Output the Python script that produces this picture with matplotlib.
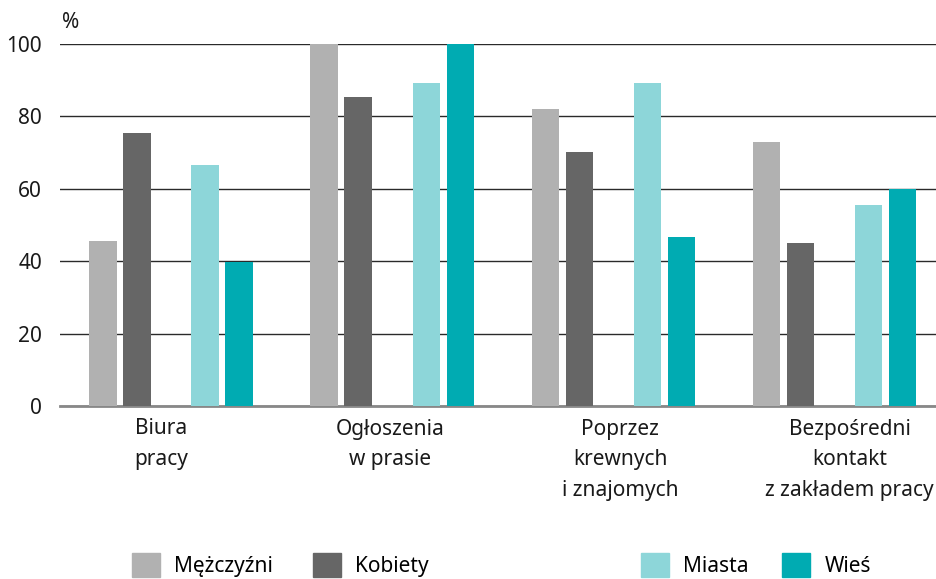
import matplotlib
matplotlib.use("Agg")
import matplotlib.pyplot as plt
from matplotlib.patches import Patch
import numpy as np

plt.rcParams["font.family"] = ["Noto Sans", "DejaVu Sans"]

# data
categories = ["Biura\npracy", "Ogłoszenia\nw prasie", "Poprzez\nkrewnych\ni znajomych",
              "Bezpośredni\nkontakt\nz zakładem pracy"]
mezczyzni = [45.5, 100, 82, 72.8]
kobiety = [75.3, 85.3, 70.3, 45]
miasta = [66.7, 89.2, 89.2, 55.6]
wies = [39.7, 100, 46.7, 60]

series = ["Mężczyźni", "Kobiety", "Miasta", "Wieś"]
colors = ["#b1b1b1", "#666666", "#8dd6d9", "#00abb2"]
slot = [0, 1, 3, 4]

fig = plt.figure(figsize=(9.36, 5.79), dpi=100)
ax = fig.add_axes([60 / 936, 173 / 579, 876 / 936, 362 / 579])

g = np.arange(len(categories)) * 6.5
for vals, col, s in zip([mezczyzni, kobiety, miasta, wies], colors, slot):
    ax.bar(g + s, vals, width=0.8, color=col, zorder=3)

ax.set_xlim(-1.264, 24.49)
ax.set_ylim(0, 100)
ax.set_yticks([0, 20, 40, 60, 80, 100])
ax.yaxis.grid(True, color="#2a2a2a", linewidth=1, zorder=0)
ax.set_axisbelow(True)
for sp in ["left", "right", "top"]:
    ax.spines[sp].set_visible(False)
ax.spines["bottom"].set_color("#888888")
ax.spines["bottom"].set_linewidth(2)
ax.tick_params(axis="y", length=0, pad=13, labelsize=15, labelcolor="#1a1a1a")
ax.tick_params(axis="x", length=0, pad=9, labelsize=15, labelcolor="#1a1a1a")

ax.set_xticks(np.arange(len(categories)) * 6.75 + 1.7)
ax.set_xticklabels(categories, linespacing=1.6)

fig.text(62 / 936, 1 - 22 / 579, "%", fontsize=15, va="center", ha="left", color="#1a1a1a")

h = [Patch(color=c) for c in colors]
leg_kw = dict(frameon=False, fontsize=15, handlelength=1.35, handleheight=1.35,
              handletextpad=0.68, borderpad=0, borderaxespad=0, ncol=2, loc="center left")
leg1 = fig.legend(h[:2], series[:2], bbox_to_anchor=(132 / 936, 1 - 565 / 579),
                  columnspacing=1.9, **leg_kw)
leg2 = fig.legend(h[2:], series[2:], bbox_to_anchor=(641 / 936, 1 - 565 / 579),
                  columnspacing=1.6, **leg_kw)

fig.savefig("out.png", dpi=100)
